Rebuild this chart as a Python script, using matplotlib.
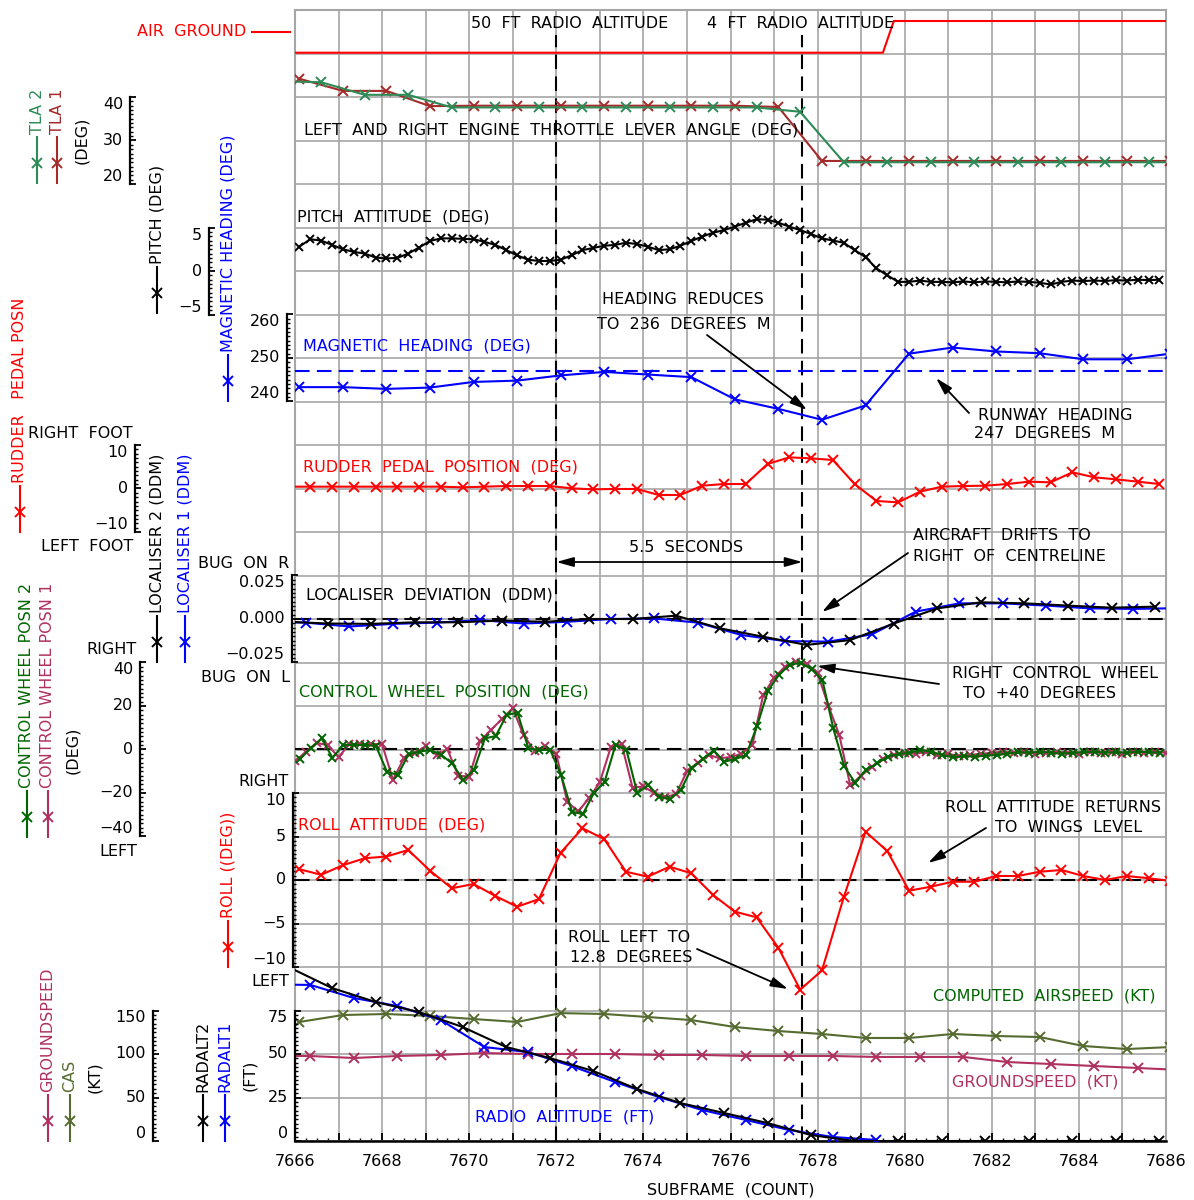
import numpy as np
import matplotlib
matplotlib.use('Agg')
import matplotlib.pyplot as plt
from matplotlib.lines import Line2D
from matplotlib.ticker import FixedLocator, NullFormatter, FuncFormatter
import matplotlib.transforms as mtrans

plt.rcParams['font.family'] = ['DejaVu Sans']
plt.rcParams['font.size'] = 11.5

# ------------------------------------------------------------------ data
x_range = [7666, 7686]
event_50ft = 7672.0
event_4ft = 7677.65

air_ground_t = [7665.5, 7679.5, 7679.75, 7686.5]
air_ground = [0, 0, 1, 1]          # 0 = AIR, 1 = GROUND

tla1_t0, tla1_dt = 7666.1, 1.0
tla1 = [44.2, 41.4, 41.4, 37.9, 38.0, 38.0, 38.0, 38.0, 38.0, 38.0, 38.0, 37.7,
        25.3, 25.3, 25.3, 25.3, 25.3, 25.3, 25.3, 25.3, 25.3]
tla2_t0, tla2_dt = 7665.6, 1.0
tla2 = [43.6, 43.4, 40.5, 40.5, 37.6, 37.6, 37.6, 37.6, 37.6, 37.6, 37.6, 37.6,
        36.6, 25.0, 25.0, 25.0, 25.0, 25.0, 25.0, 25.0, 25.0, 25.0]

pitch_t0, pitch_dt = 7666.1, 0.25
pitch = [2.8, 3.65, 3.5, 3.0, 2.5, 2.2, 2.0, 1.55, 1.45, 1.5,
         2.0, 2.7, 3.45, 3.75, 3.75, 3.7, 3.65, 3.35, 3.0, 2.4,
         1.8, 1.3, 1.15, 1.15, 1.3, 1.8, 2.4, 2.65, 2.9, 3.0,
         3.25, 3.1, 2.8, 2.4, 2.5, 2.9, 3.45, 3.95, 4.4, 4.7,
         5.1, 5.55, 5.95, 5.9, 5.55, 5.1, 4.7, 4.25, 3.75, 3.5,
         3.25, 2.4, 1.6, 0.3, -0.5, -1.25, -1.25, -1.1, -1.25, -1.25,
         -1.3, -1.2, -1.3, -1.2, -1.25, -1.3, -1.2, -1.25, -1.35, -1.55,
         -1.25, -1.1, -1.15, -1.1, -1.15, -1.05, -1.1, -1.0, -1.05, -1.0]

heading_t0, heading_dt = 7666.1, 1.0
heading = [243.3, 243.3, 242.9, 243.2, 244.5, 244.8, 246.0, 246.8, 246.2, 245.6,
           240.5, 238.3, 235.8, 239.1, 251.0, 252.4, 251.5, 251.1, 249.7, 249.7, 251.0]
runway_heading = 247.0

rudder_t0, rudder_dt = 7665.85, 0.5
rudder = [0.42, 0.42, 0.42, 0.42, 0.42, 0.42, 0.42, 0.42, 0.27, 0.42,
          0.57, 0.57, 0.57, 0.04, -0.19, -0.11, -0.11, -1.49, -1.49, 0.65,
          1.03, 1.03, 5.63, 7.16, 6.93, 6.55, 1.03, -2.87, -3.18, -0.73,
          0.42, 0.57, 0.65, 1.03, 1.57, 1.42, 3.72, 2.57, 2.11, 1.57, 1.03]

loc1_t0, loc1_dt = 7665.25, 1.0
loc1 = [-0.0015, -0.0021, -0.0043, -0.0028, -0.0021, -0.0006, -0.0026, -0.0016, 0.0, 0.0003,
        -0.0021, -0.0092, -0.0127, -0.0130, -0.0088, 0.0042, 0.0090, 0.0090, 0.0077, 0.0061,
        0.0058, 0.0062]
loc2_t0, loc2_dt = 7665.75, 1.0
loc2 = [-0.0015, -0.0026, -0.0028, -0.0019, -0.0019, -0.0009, -0.0016, 0.0, 0.0, 0.0019,
        -0.0053, -0.0102, -0.0149, -0.0121, -0.0026, 0.0061, 0.0096, 0.0090, 0.0077, 0.0065,
        0.0071]

wheel2_t0, wheel2_dt = 7666.11, 0.25
wheel2 = [-4.4, 0.5, 5.1, -3.8, 2.1, 2.1, 2.1, 1.6, -10.2, -11.7,
          -2.1, -1.0, -0.2, -2.5, -6.4, -14.0, -9.4, 5.1, 6.2, 15.9,
          16.9, 0.5, -0.2, -0.2, -11.7, -28.6, -29.7, -20.1, -14.8, 2.1,
          -0.2, -20.1, -16.3, -21.7, -22.9, -18.6, -8.6, -4.5, -0.5, -5.6,
          -4.4, -2.5, 10.8, 27.0, 34.3, 38.9, 39.9, 36.9, 32.0, 9.7,
          -7.6, -15.3, -9.4, -6.4, -3.3, -2.1, -1.5, -0.2, -1.0, -2.5,
          -3.6, -3.0, -3.3, -2.8, -2.5, -2.0, -1.2, -1.5, -1.0, -1.5,
          -2.0, -1.5, -1.2, -1.0, -1.5, -1.2, -1.5, -1.0, -1.2, -1.5]
wheel1_t0, wheel1_dt = 7666.0, 0.25
wheel1 = [-5.5, -1.0, 3.0, 2.0, -3.5, 2.5, 2.5, 2.5, 2.5, -14.0,
          -4.0, -1.5, 1.5, -2.5, 0.0, -12.0, -12.5, 4.0, 9.0, 14.0,
          19.0, 6.5, -0.5, 1.5, -2.0, -24.0, -28.5, -22.5, -15.0, 1.0,
          2.5, -17.5, -17.0, -20.0, -22.0, -20.5, -10.0, -6.0, -2.5, -4.0,
          -3.5, -2.0, 2.0, 25.0, 33.0, 38.0, 40.0, 39.5, 35.0, 20.0,
          6.5, -16.5, -12.0, -8.0, -4.5, -2.5, -1.5, -2.0, -1.0, -2.5,
          -2.0, -3.0, -2.5, -2.0, -1.5, -1.0, -1.5, -1.0, -2.0, -1.5,
          -1.0, -1.5, -2.0, -1.0, -1.5, -1.0, -2.0, -1.0, -1.5, -1.0, -1.5]

roll_t0, roll_dt = 7666.1, 0.5
roll = [1.24, 0.6, 1.7, 2.5, 2.7, 3.45, 1.07, -0.95, -0.46, -1.84,
        -3.07, -2.2, 3.14, 5.95, 4.7, 0.95, 0.38, 1.53, 0.77, -1.72,
        -3.64, -4.29, -7.8, -12.6, -10.4, -1.99, 5.55, 3.33, -1.23, -0.77,
        -0.2, -0.2, 0.46, 0.46, 0.95, 1.15, 0.46, 0.0, 0.46, 0.2, -0.1]

cas_t0, cas_dt = 7666.1, 1.0
cas = [136.8, 144.8, 146.0, 143.7, 140.2, 136.8, 147.0, 146.0, 142.5, 139.0,
       131.0, 126.4, 123.0, 118.4, 118.4, 123.0, 120.7, 119.5, 109.2, 105.7, 108.0]
gs_t0, gs_dt = 7665.35, 1.0
gs = [97.7, 97.7, 95.4, 97.7, 98.9, 101.1, 100.0, 100.0, 100.0, 98.9, 98.9,
      97.7, 97.7, 97.7, 96.6, 96.6, 96.6, 90.8, 88.5, 86.2, 83.9, 81.6]

ra1_t0, ra1_dt = 7665.35, 1.0
ra1 = [90.0, 89.7, 82.2, 77.6, 69.5, 54.0, 51.1, 43.1, 33.9, 25.3, 17.8,
       12.1, 6.3, 2.3, 0.6]
ra2_t0, ra2_dt = 7665.85, 1.0
ra2 = [100.0, 87.9, 79.9, 74.1, 65.5, 54.0, 47.7, 40.2, 29.9, 21.8, 16.1,
       10.3, 3.4, 0.0, 0.0, 0.0, 0.0, 0.0, 0.0, 0.0, 0.0]

def times(t0, dt, vals):
    return t0 + dt * np.arange(len(vals))

# ------------------------------------------------------------------ colours
RED = '#FF0000'
BLUE = '#0000FF'
DARKRED = '#A52A2A'
SEAGREEN = '#2E8B57'
DKGREEN = '#006400'
MAROON = '#B03060'
OLIVE = '#556B2F'
GRID = '#A6A6A6'

# ------------------------------------------------------------------ layout (pixels)
FW, FH = 1194, 1200
L, R, T, B = 295, 1166, 10, 1141
fig = plt.figure(figsize=(FW / 100, FH / 100), dpi=100)
rect = [L / FW, 1 - B / FH, (R - L) / FW, (B - T) / FH]

def fx(x):
    return x / FW

def fy(y):
    return 1 - y / FH

ax = fig.add_axes(rect)
ax.set_xlim(*x_range)
ax.set_ylim(0, 26)
ax.set_xticks(np.arange(x_range[0], x_range[1] + 1, 1))
ax.set_xticks(np.arange(x_range[0], x_range[1] + 0.01, 0.25), minor=True)
ax.xaxis.set_major_formatter(FuncFormatter(lambda v, p: str(int(round(v))) if int(round(v)) % 2 == 0 else ''))
ax.set_yticks(np.arange(0, 27, 1))
ax.tick_params(axis='y', left=False, labelleft=False)
ax.tick_params(axis='x', which='major', direction='in', length=6, width=1.3, pad=9, labelsize=11.5)
ax.tick_params(axis='x', which='minor', direction='in', length=2.5, width=1.0)
ax.grid(True, which='major', color=GRID, lw=1.2)
ax.set_axisbelow(True)
for s in ['left', 'top', 'right']:
    ax.spines[s].set_color(GRID)
    ax.spines[s].set_linewidth(1.5)
ax.spines['bottom'].set_color('black')
ax.spines['bottom'].set_linewidth(1.8)

dash = (0, (7, 3.5))
ytop_frac = (B - 35) / (B - T)
ax.axvline(event_50ft, ymin=0, ymax=ytop_frac, color='black', lw=1.5, ls=dash, zorder=5)
ax.axvline(event_4ft, ymin=0, ymax=ytop_frac, color='black', lw=1.5, ls=dash, zorder=5)

def overlay(v_ref, y_ref, ppu):
    o = fig.add_axes(rect)
    o.set_xlim(*x_range)
    o.set_ylim(v_ref - (B - y_ref) / ppu, v_ref + (y_ref - T) / ppu)
    o.patch.set_visible(False)
    for s in o.spines.values():
        s.set_visible(False)
    o.set_xticks([])
    o.set_yticks([])
    return o

def add_scale(o, spine_x, lo, hi, major, labels, minor_step, gap=7):
    sp = o.spines['left']
    sp.set_visible(True)
    sp.set_position(('axes', (spine_x - L) / (R - L)))
    sp.set_bounds(lo, hi)
    sp.set_linewidth(1.6)
    sp.set_color('black')
    o.yaxis.set_major_locator(FixedLocator(major))
    o.yaxis.set_minor_locator(FixedLocator(np.arange(lo, hi + minor_step / 2, minor_step)))
    o.yaxis.set_major_formatter(NullFormatter())
    o.tick_params(axis='y', which='major', direction='in', length=4, width=1.3, left=True, labelleft=False)
    o.tick_params(axis='y', which='minor', direction='in', length=2, width=1.0, left=True)
    tr = mtrans.blended_transform_factory(fig.transFigure, o.transData)
    for v, lab in zip(major, labels):
        va = 'center'
        if v == max(major):
            va = 'top'
        elif v == min(major):
            va = 'bottom'
        o.text(fx(spine_x - gap), v, lab, transform=tr, ha='right', va=va, fontsize=11.5)

MS, MEW, LW = 7, 1.4, 1.5
MSD = 6.2          # dense (4 Hz) series
M = '\u2212'

# air / ground
o = overlay(0, 52.7, 31.7)
o.plot(air_ground_t, air_ground, color=RED, lw=1.5)

# TLA
o = overlay(30, 140.5, 4.35)
o.plot(times(tla1_t0, tla1_dt, tla1), tla1, '-x', color=DARKRED, lw=LW, ms=MS, mew=MEW)
o.plot(times(tla2_t0, tla2_dt, tla2), tla2, '-x', color=SEAGREEN, lw=LW, ms=MS, mew=MEW)
add_scale(o, 130, 20, 40, [20, 30, 40], ['20', '30', '40'], 1)

# pitch
o = overlay(0, 271, 8.7)
o.plot(times(pitch_t0, pitch_dt, pitch), pitch, '-x', color='black', lw=LW, ms=MSD, mew=MEW)
add_scale(o, 209, -5, 5, [-5, 0, 5], [M + '5', '0', '5'], 0.5)

# heading
o = overlay(250, 358, 4.35)
o.axhline(runway_heading, color=BLUE, lw=1.5, ls=dash)
o.plot(times(heading_t0, heading_dt, heading), heading, '-x', color=BLUE, lw=LW, ms=MS, mew=MEW)
add_scale(o, 287, 240, 260, [240, 250, 260], ['240', '250', '260'], 1)

# rudder
o = overlay(0, 488.5, 4.35)
o.plot(times(rudder_t0, rudder_dt, rudder), rudder, '-x', color=RED, lw=LW, ms=MS, mew=MEW)
add_scale(o, 135, -10, 10, [-10, 0, 10], [M + '10', '0', '10'], 1)

# localiser
o = overlay(0, 619, 1740)
o.axhline(0, color='black', lw=1.5, ls=dash)
o.plot(times(loc1_t0, loc1_dt, loc1), loc1, '-x', color=BLUE, lw=LW, ms=MS, mew=MEW)
o.plot(times(loc2_t0, loc2_dt, loc2), loc2, '-x', color='black', lw=LW, ms=MS, mew=MEW)
add_scale(o, 291.7, -0.025, 0.025, [-0.025, 0, 0.025], [M + '0.025', '0.000', '0.025'], 0.0025)

# control wheel
o = overlay(0, 749.5, 2.175)
o.axhline(0, color='black', lw=1.5, ls=dash)
o.plot(times(wheel1_t0, wheel1_dt, wheel1), wheel1, '-x', color=MAROON, lw=LW, ms=MSD, mew=MEW)
o.plot(times(wheel2_t0, wheel2_dt, wheel2), wheel2, '-x', color=DKGREEN, lw=LW, ms=MSD, mew=MEW)
add_scale(o, 140, -40, 40, [-40, -20, 0, 20, 40], [M + '40', M + '20', '0', '20', '40'], 2)

# roll
o = overlay(0, 880, 8.7)
o.axhline(0, color='black', lw=1.5, ls=dash)
o.plot(times(roll_t0, roll_dt, roll), roll, '-x', color=RED, lw=LW, ms=MS, mew=MEW)
add_scale(o, 292.7, -10, 10, [-10, -5, 0, 5, 10], [M + '10', M + '5', '0', '5', '10'], 0.5)

# speeds
o = overlay(0, 1141, 0.87)
o.plot(times(cas_t0, cas_dt, cas), cas, '-x', color=OLIVE, lw=LW, ms=MS, mew=MEW)
o.plot(times(gs_t0, gs_dt, gs), gs, '-x', color=MAROON, lw=LW, ms=MS, mew=MEW)
add_scale(o, 153, 0, 150, [0, 50, 100, 150], ['0', '50', '100', '150'], 5)

# radio altitude
o = overlay(0, 1141, 1.74)
o.plot(times(ra1_t0, ra1_dt, ra1), ra1, '-x', color=BLUE, lw=LW, ms=MS, mew=MEW)
o.plot(times(ra2_t0, ra2_dt, ra2), ra2, '-x', color='black', lw=LW, ms=MS, mew=MEW)
add_scale(o, 295, 0, 75, [0, 25, 50, 75], ['0', '25', '50', '75'], 2.5)

# ------------------------------------------------------------------ left rotated labels
def vlabel(x, y_bot, text, color, glyph=True, center=None):
    if center is not None:
        fig.text(fx(x), fy(center), text, rotation=90, ha='center', va='center', color=color)
        return
    fig.add_artist(Line2D([fx(x), fx(x)], [fy(y_bot), fy(y_bot - 46)], color=color, lw=1.5,
                          transform=fig.transFigure))
    fig.add_artist(Line2D([fx(x)], [fy(y_bot - 20)], marker='x', ms=7, mew=1.4, color=color,
                          transform=fig.transFigure))
    fig.text(fx(x), fy(y_bot - 49), text, rotation=90, ha='center', va='bottom', color=color)

vlabel(37, 183, 'TLA 2', SEAGREEN)
vlabel(57, 183, 'TLA 1', DARKRED)
vlabel(82, 0, '(DEG)', 'black', center=140)
vlabel(157, 313, 'PITCH (DEG)', 'black')
vlabel(228, 401, 'MAGNETIC HEADING (DEG)', BLUE)
vlabel(20, 532, 'RUDDER   PEDAL POSN', RED)
vlabel(157, 662, 'LOCALISER 2 (DDM)', 'black')
vlabel(185, 662, 'LOCALISER 1 (DDM)', BLUE)
vlabel(27, 837, 'CONTROL WHEEL POSN 2', DKGREEN)
vlabel(48, 837, 'CONTROL WHEEL POSN 1', MAROON)
vlabel(73, 0, '(DEG)', 'black', center=750)
vlabel(228, 967, 'ROLL ((DEG))', RED)
vlabel(48, 1141, 'GROUNDSPEED', MAROON)
vlabel(70, 1141, 'CAS', OLIVE)
vlabel(95, 0, '(KT)', 'black', center=1077)
vlabel(203, 1141, 'RADALT2', 'black')
vlabel(225, 1141, 'RADALT1', BLUE)
vlabel(250, 0, '(FT)', 'black', center=1075)

# ------------------------------------------------------------------ horizontal labels
def htext(x, y, s, color='black', ha='left'):
    fig.text(fx(x), fy(y), s, ha=ha, va='center', color=color)

htext(246, 31, 'AIR  GROUND', RED, ha='right')
fig.add_artist(Line2D([fx(252), fx(290)], [fy(31.5), fy(31.5)], color=RED, lw=1.5, transform=fig.transFigure))
htext(133, 433, 'RIGHT  FOOT', ha='right')
htext(133, 546, 'LEFT  FOOT', ha='right')
htext(289, 563, 'BUG  ON  R', ha='right')
htext(290, 677, 'BUG  ON  L', ha='right')
htext(137, 650, 'RIGHT', ha='right')
htext(137, 852, 'LEFT', ha='right')
htext(289, 781, 'RIGHT', ha='right')
htext(289, 982, 'LEFT', ha='right')

htext(471, 23, '50  FT  RADIO  ALTITUDE')
htext(707, 24, '4  FT  RADIO  ALTITUDE')
htext(304, 130, 'LEFT  AND  RIGHT  ENGINE  THROTTLE  LEVER  ANGLE  (DEG)')
htext(297, 217, 'PITCH  ATTITUDE  (DEG)')
htext(303, 346, 'MAGNETIC  HEADING  (DEG)', BLUE)
htext(683, 299, 'HEADING  REDUCES', ha='center')
htext(684, 325, 'TO  236  DEGREES  M', ha='center')
htext(1055, 415, 'RUNWAY  HEADING', ha='center')
htext(1045, 434, '247  DEGREES  M', ha='center')
htext(303, 467, 'RUDDER  PEDAL  POSITION  (DEG)', RED)
htext(686, 548, '5.5  SECONDS', ha='center')
htext(913, 536, 'AIRCRAFT  DRIFTS  TO')
htext(913, 557, 'RIGHT  OF  CENTRELINE')
htext(306, 595, 'LOCALISER  DEVIATION  (DDM)')
htext(299, 692, 'CONTROL  WHEEL  POSITION  (DEG)', DKGREEN)
htext(952, 674, 'RIGHT  CONTROL  WHEEL')
htext(963, 694, 'TO  +40  DEGREES')
htext(298, 825, 'ROLL  ATTITUDE  (DEG)', RED)
htext(945, 807, 'ROLL  ATTITUDE  RETURNS')
htext(995, 827, 'TO  WINGS  LEVEL')
htext(568, 938, 'ROLL  LEFT  TO')
htext(570, 958, '12.8  DEGREES')
htext(933, 996, 'COMPUTED  AIRSPEED  (KT)', DKGREEN)
htext(952, 1082, 'GROUNDSPEED  (KT)', MAROON)
htext(475, 1117, 'RADIO  ALTITUDE  (FT)', BLUE)
htext(730.5, 1190, 'SUBFRAME  (COUNT)', ha='center')

# ------------------------------------------------------------------ arrows
aprops = dict(arrowstyle='-|>,head_length=0.9,head_width=0.25', color='black', lw=1.3,
              shrinkA=0, shrinkB=0)

def arrow(tail, head):
    ax.annotate('', xy=(fx(head[0]), fy(head[1])), xytext=(fx(tail[0]), fy(tail[1])),
                xycoords='figure fraction', textcoords='figure fraction',
                arrowprops=aprops, annotation_clip=False)

arrow((707, 335), (807, 410))
arrow((969, 413), (936, 378))
arrow((908, 553), (822, 612))
arrow((939, 684), (817, 666))
arrow((986, 828), (928, 863))
arrow((697, 949), (788, 989))
ax.annotate('', xy=(event_50ft, fy(562)), xytext=(event_4ft, fy(562)),
            xycoords=('data', 'figure fraction'), textcoords=('data', 'figure fraction'),
            arrowprops=dict(arrowstyle='<|-|>,head_length=0.9,head_width=0.25', color='black',
                            lw=1.3, shrinkA=0, shrinkB=0))

fig.savefig('out.png', dpi=100)
